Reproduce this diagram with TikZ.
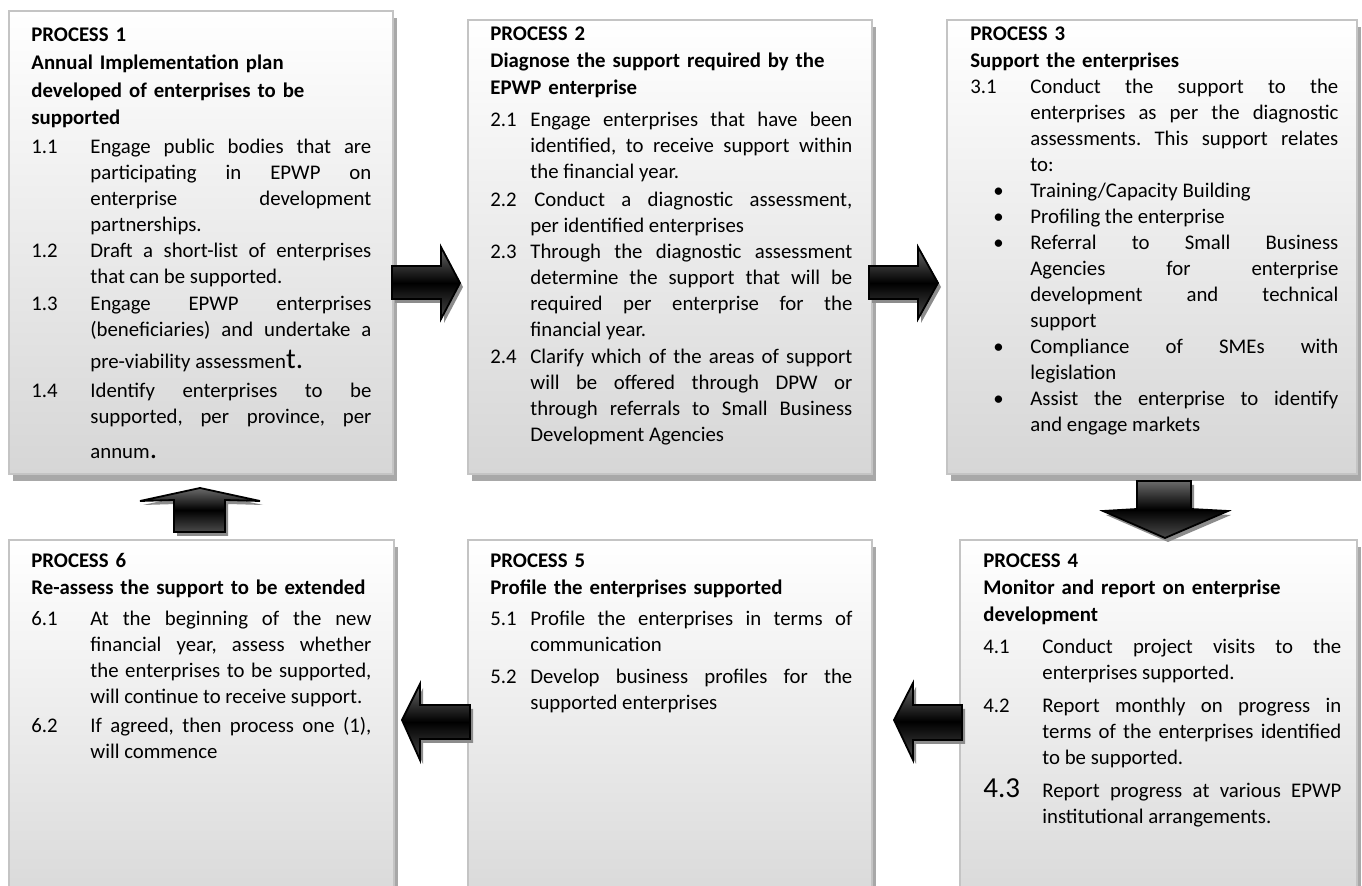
\documentclass[tikz,border=0pt]{standalone}
\usepackage{fontspec}
\setmainfont{Carlito}
\usetikzlibrary{fit,shadows}
\definecolor{boxline}{HTML}{C4C4C4}
\definecolor{boxshadow}{HTML}{A8A8A8}
\definecolor{boxbottom}{HTML}{D6D6D6}
\definecolor{arrowshadow}{HTML}{8C8C8C}
\definecolor{arrowtop}{HTML}{6A6A6A}
\definecolor{arrowbottom}{HTML}{4A4A4A}
\newcommand{\itm}[3]{\hangindent=#1\hangafter=1\noindent\makebox[#1][l]{#2}#3\par}
\newcommand{\bigc}{\fontsize{14.5pt}{13pt}\selectfont}
\hyphenpenalty=10000
\exhyphenpenalty=10000
\tolerance=10000
\frenchspacing
\tikzset{
  procbox/.style={draw=boxline, line width=1pt, top color=white, bottom color=boxbottom, inner sep=0pt,
    drop shadow={shadow xshift=2pt, shadow yshift=-3.5pt, fill=boxshadow, opacity=1}},
  blockarrow/.style={draw=black, line width=0.9pt, top color=arrowtop, bottom color=arrowbottom, middle color=black,
    drop shadow={shadow xshift=1.5pt, shadow yshift=-2pt, fill=arrowshadow, opacity=1}},
  txt/.style={anchor=base west, inner sep=0pt, align=justify, font=\fontsize{10.4pt}{13pt}\selectfont\frenchspacing},
  hdr/.style={anchor=base west, inner sep=0pt, align=left, text width=200pt, font=\fontsize{10.4pt}{13.3pt}\selectfont\bfseries},
}
\begin{document}
\begin{tikzpicture}[x=0.5pt,y=-0.5pt]
\useasboundingbox (0,0) rectangle (1362,886);
\clip (0,0) rectangle (1362,886);
\fill[white] (0,0) rectangle (1362,886);

% boxes
\node[procbox, fit={(9,11) (393,474)}] (b1) {};
\node[procbox, fit={(468,20) (872,474)}] (b2) {};
\node[procbox, fit={(947,20) (1357,474)}] (b3) {};
\node[procbox, fit={(9,540) (394,930)}] (b6) {};
\node[procbox, fit={(468,540) (872,930)}] (b5) {};
\node[procbox, fit={(960,540) (1357,930)}] (b4) {};

% block arrows
\draw[blockarrow] (392,266) -- (441,266) -- (441,247) -- (460,283) -- (441,319) -- (441,299) -- (392,299) -- cycle;
\draw[blockarrow] (869,266) -- (918,266) -- (918,247) -- (938,283) -- (918,319) -- (918,299) -- (869,299) -- cycle;
\draw[blockarrow] (1137,481) -- (1191,481) -- (1191,509) -- (1228,511) -- (1165,538) -- (1103,511) -- (1137,509) -- cycle;
\draw[blockarrow] (470,705) -- (420,705) -- (420,684) -- (402,720) -- (420,760) -- (420,739) -- (470,739) -- cycle;
\draw[blockarrow] (962,705) -- (913,705) -- (913,683) -- (894,720) -- (913,760) -- (913,740) -- (962,740) -- cycle;
\draw[blockarrow] (174,532) -- (174,500) -- (140,501) -- (200,488) -- (260,501) -- (225,500) -- (225,532) -- cycle;

% box 1
\node[hdr, font=\fontsize{10.4pt}{13.8pt}\selectfont\bfseries] (t1h) at (31,42) {PROCESS 1\\Annual Implementation plan\\developed of enterprises to be\\supported};
\node[txt, text width=170pt] (t11) at (31,154) {\itm{29.5pt}{1.1}{Engage public bodies that are\linebreak participating in EPWP on\linebreak enterprise development\linebreak partnerships.}};
\node[txt, text width=170pt] (t12) at (31,258) {\itm{29.5pt}{1.2}{Draft a short-list of enterprises\linebreak that can be supported.}};
\node[txt, text width=170pt] (t13) at (31,311) {\itm{29.5pt}{1.3}{Engage EPWP enterprises\linebreak (beneficiaries) and undertake a\vadjust{\vskip3pt}\linebreak pre-viability assessmen{\bigc t.}}};
\node[txt, text width=170pt] (t14) at (31,398) {\itm{29.5pt}{1.4}{Identify enterprises to be\linebreak supported, per province, per\vadjust{\vskip4.5pt}\linebreak annum{\bigc .}}};

% box 2
\node[hdr] (t2h) at (490,41) {PROCESS 2\\Diagnose the support required by the\\EPWP enterprise};
\node[txt, text width=181pt] (t21) at (490,127) {\itm{20pt}{2.1}{Engage enterprises that have been\linebreak identified, to receive support within\linebreak the financial year.}};
\node[txt, text width=181pt] (t22) at (490,207) {\itm{20pt}{2.2}{\hspace{2pt}Conduct a diagnostic assessment,\linebreak per identified enterprises}};
\node[txt, text width=181pt] (t23) at (490,259) {\itm{20pt}{2.3}{Through the diagnostic assessment\linebreak determine the support that will be\linebreak required per enterprise for the\linebreak financial year.}};
\node[txt, text width=181pt] (t24) at (490,364) {\itm{20pt}{2.4}{Clarify which of the areas of support\linebreak will be offered through DPW or\linebreak through referrals to Small Business\linebreak Development Agencies}};

% box 3
\node[hdr] (t3h) at (970,41) {PROCESS 3\\Support the enterprises};
\node[txt, text width=184pt] (t31) at (970,94) {\itm{30pt}{3.1}{Conduct the support to the\linebreak enterprises as per the diagnostic\linebreak assessments. This support relates\linebreak to:}};
\node[txt, text width=184pt] (t3b) at (970,198) {%
\itm{30pt}{\hspace{11.5pt}\textbullet}{Training/Capacity Building}%
\itm{30pt}{\hspace{11.5pt}\textbullet}{Profiling the enterprise}%
\itm{30pt}{\hspace{11.5pt}\textbullet}{Referral to Small Business\linebreak Agencies for enterprise\linebreak development and technical\linebreak support}%
\itm{30pt}{\hspace{11.5pt}\textbullet}{Compliance of SMEs with\linebreak legislation}%
\itm{30pt}{\hspace{11.5pt}\textbullet}{Assist the enterprise to identify\linebreak and engage markets}};

% box 4
\node[hdr] (t4h) at (983,568) {PROCESS 4\\Monitor and report on enterprise\\development};
\node[txt, text width=179pt] (t41) at (983,654) {\itm{29.5pt}{4.1}{Conduct project visits to the\linebreak enterprises supported.}};
\node[txt, text width=179pt] (t42) at (983,713) {\itm{29.5pt}{4.2}{Report monthly on progress in\linebreak terms of the enterprises identified\linebreak to be supported.}};
\node[txt, text width=179pt] (t43) at (983,798) {\itm{29.5pt}{{\bigc 4.3}}{Report progress at various EPWP\linebreak institutional arrangements.}};

% box 5
\node[hdr] (t5h) at (490,568) {PROCESS 5\\Profile the enterprises supported};
\node[txt, text width=181pt] (t51) at (490,626) {\itm{20pt}{5.1}{Profile the enterprises in terms of\linebreak communication}};
\node[txt, text width=181pt] (t52) at (490,684) {\itm{20pt}{5.2}{Develop business profiles for the\linebreak supported enterprises}};

% box 6
\node[hdr] (t6h) at (31,568) {PROCESS 6\\Re-assess the support to be extended};
\node[txt, text width=170pt] (t61) at (31,626) {\itm{29.5pt}{6.1}{At the beginning of the new\linebreak financial year, assess whether\linebreak the enterprises to be supported,\linebreak will continue to receive support.}};
\node[txt, text width=170pt] (t62) at (31,733) {\itm{29.5pt}{6.2}{If agreed, then process one (1),\linebreak will commence}};
\end{tikzpicture}
\end{document}
